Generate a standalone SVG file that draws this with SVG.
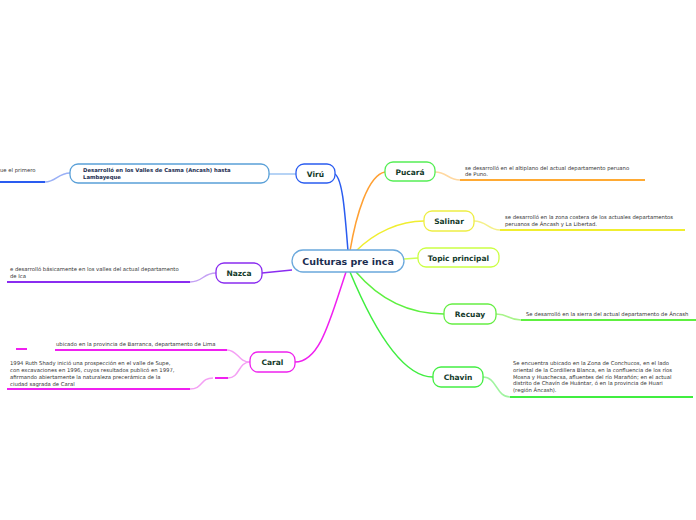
<svg xmlns="http://www.w3.org/2000/svg" width="696" height="520" viewBox="0 0 696 520">
<style>
.node{fill:#fff;stroke-width:1.3}
.t{font-family:"DejaVu Sans",Verdana,sans-serif;font-weight:bold;font-size:7.5px;fill:#133a2a;text-anchor:middle}
.s{font-family:"DejaVu Sans",Verdana,sans-serif;font-size:5.3px;fill:#333}
.c{fill:none;stroke-width:1.5}
.u{fill:none;stroke-width:2}
</style>
<rect width="696" height="520" fill="#fff"/>
<g id="connectors">
<path class="c" stroke="#2a5cf0" d="M348,251 C345,215 343,180 335,174"/>
<path class="c" stroke="#ffa033" d="M350,251 C356,215 368,175 385,172"/>
<path class="c" stroke="#f0ee30" d="M356,251 C375,232 400,221 424,221"/>
<path class="c" stroke="#ccff55" d="M404,259 L418,258"/>
<path class="c" stroke="#8a2cf0" d="M292,270 L262,273"/>
<path class="c" stroke="#f020f0" d="M346,272 C330,320 320,362 295,362"/>
<path class="c" stroke="#5ef040" d="M356,272 C380,300 410,314 444,314"/>
<path class="c" stroke="#40ee40" d="M350,272 C370,320 400,377 433,377"/>
<path class="c" stroke="#9ec4f2" d="M296,174 L269,174"/>
<path class="c" stroke="#9ab0f6" stroke-width="1" d="M70,173 C58,173 56,182 45,182"/>
<path class="u" stroke="#2a5cf0" d="M0,182 L45,182"/>
<path class="c" stroke="#ffd8a0" stroke-width="1" d="M435,172 C447,172 448,180 460,180"/>
<path class="u" stroke="#ffaa33" d="M460,180 L645,180"/>
<path class="c" stroke="#f4f08a" stroke-width="1" d="M474,221 C487,221 488,230 500,230"/>
<path class="u" stroke="#f0ee30" d="M500,230 L685,230"/>
<path class="c" stroke="#c4a0f4" stroke-width="1" d="M216,273 C203,273 203,282 190,282"/>
<path class="u" stroke="#8a2cf0" d="M7,282 L190,282"/>
<path class="c" stroke="#f4a0f4" stroke-width="1" d="M250,362 C238,362 238,350 227,350"/>
<path class="u" stroke="#f020f0" d="M55,350 L227,350"/>
<path class="u" stroke="#f020f0" d="M16,349 L27,349"/>
<path class="c" stroke="#f4a0f4" stroke-width="1" d="M250,362 C238,362 240,378 228,378"/>
<path class="u" stroke="#f020f0" d="M215,378 L228,378"/>
<path class="c" stroke="#f4a0f4" stroke-width="1" d="M213,378 C200,378 203,389 190,389"/>
<path class="u" stroke="#f020f0" d="M7,389 L190,389"/>
<path class="c" stroke="#a8f48a" stroke-width="1" d="M496,314 C509,314 508,320 521,320"/>
<path class="u" stroke="#5ef040" d="M521,320 L696,320"/>
<path class="c" stroke="#a0f4a0" stroke-width="1" d="M483,377 C497,377 496,397 510,397"/>
<path class="u" stroke="#40ee40" d="M510,397 L693,397"/>
</g>
<g id="central">
<rect class="node" x="292" y="250" width="112" height="22" rx="11" stroke="#6aa8dc"/>
<text x="348" y="264.5" class="t" style="font-size:9.5px;fill:#1b2d50">Culturas pre inca</text>
</g>
<g id="viru">
<rect class="node" x="296" y="164" width="39" height="19" rx="8" stroke="#2a5cf0"/>
<text x="315.5" y="176.5" class="t">Virú</text>
</g>
<g id="viru-1">
<rect class="node" x="70" y="164" width="199" height="19" rx="8" stroke="#5aa0d8"/>
<text x="83" y="172" class="s" style="font-weight:bold;fill:#1b2d50">Desarrolló en los Valles de Casma (Ancash) hasta</text>
<text x="83" y="179" class="s" style="font-weight:bold;fill:#1b2d50">Lambayeque</text>
</g>
<g id="viru-2"><text x="0" y="171.5" class="s">ue el primero</text></g>
<g id="pucara">
<rect class="node" x="385" y="162" width="50" height="19" rx="8" stroke="#55ee55"/>
<text x="410" y="174.5" class="t">Pucará</text>
</g>
<g id="pucara-1">
<text x="465" y="170" class="s">se desarrolló en el altiplano del actual departamento peruano</text>
<text x="465" y="176" class="s">de Puno.</text>
</g>
<g id="salinar">
<rect class="node" x="424" y="211" width="50" height="20" rx="8" stroke="#eeee44"/>
<text x="449" y="224" class="t">Salinar</text>
</g>
<g id="salinar-1">
<text x="505" y="219" class="s">se desarrolló en la zona costera de los actuales departamentos</text>
<text x="505" y="226" class="s">peruanos de Áncash y La Libertad.</text>
</g>
<g id="topic">
<rect class="node" x="418" y="248" width="81" height="19" rx="8" stroke="#ccff44"/>
<text x="458.5" y="260.5" class="t">Topic principal</text>
</g>
<g id="nazca">
<rect class="node" x="216" y="263" width="46" height="20" rx="8" stroke="#8a2cf0"/>
<text x="239" y="276" class="t">Nazca</text>
</g>
<g id="nazca-1">
<text x="10" y="271" class="s">e desarrolló básicamente en los valles del actual departamento</text>
<text x="10" y="278" class="s">de Ica</text>
</g>
<g id="caral">
<rect class="node" x="250" y="352" width="45" height="20" rx="8" stroke="#ee22ee"/>
<text x="272.5" y="365" class="t">Caral</text>
</g>
<g id="caral-1"><text x="56" y="346" class="s">ubicado en la provincia de Barranca, departamento de Lima</text></g>
<g id="caral-2">
<text x="10" y="364.5" class="s">1994 Ruth Shady inició una prospección en el valle de Supe,</text>
<text x="10" y="372" class="s">con excavaciones en 1996, cuyos resultados publicó en 1997,</text>
<text x="10" y="379" class="s">afirmando abiertamente la naturaleza precerámica de la</text>
<text x="10" y="386" class="s">ciudad sagrada de Caral</text>
</g>
<g id="recuay">
<rect class="node" x="444" y="304" width="52" height="20" rx="8" stroke="#66ee44"/>
<text x="470" y="317" class="t">Recuay</text>
</g>
<g id="recuay-1"><text x="526" y="316" class="s">Se desarrolló en la sierra del actual departamento de Áncash</text></g>
<g id="chavin">
<rect class="node" x="433" y="367" width="50" height="20" rx="8" stroke="#44ee44"/>
<text x="458" y="380" class="t">Chavin</text>
</g>
<g id="chavin-1">
<text x="513" y="365" class="s">Se encuentra ubicado en la Zona de Conchucos, en el lado</text>
<text x="513" y="372" class="s">oriental de la Cordillera Blanca, en la confluencia de los ríos</text>
<text x="513" y="378.5" class="s">Mosna y Huachecsa, afluentes del río Marañón; en el actual</text>
<text x="513" y="385" class="s">distrito de Chavín de Huántar, ó en la provincia de Huari</text>
<text x="513" y="391.5" class="s">(región Áncash).</text>
</g>
</svg>
